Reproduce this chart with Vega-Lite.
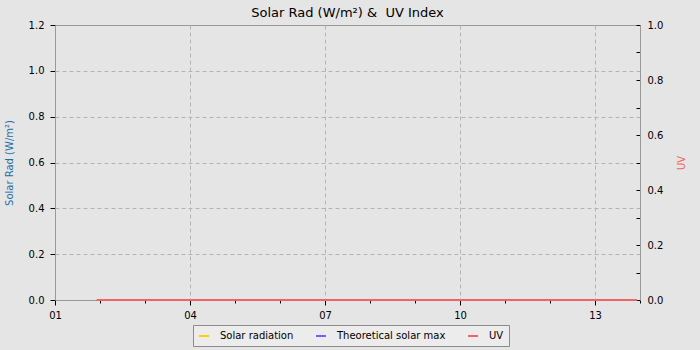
{
  "$schema": "https://vega.github.io/schema/vega-lite/v6.json",
  "width": 585,
  "height": 275,
  "autosize": {"type": "none"},
  "padding": {"left": 55, "top": 25, "right": 60, "bottom": 50},
  "background": "#e5e5e5",
  "title": {"text": "Solar Rad (W/m²) &\u00a0 UV Index", "font": "DejaVu Sans", "fontSize": 13, "fontWeight": "normal", "color": "#000000", "anchor": "middle", "offset": 0},
  "data": {"values": [
    {"day": 1.93, "series": "Solar radiation", "value": 0}, {"day": 2.93, "series": "Solar radiation", "value": 0}, {"day": 3.93, "series": "Solar radiation", "value": 0}, {"day": 4.93, "series": "Solar radiation", "value": 0}, {"day": 5.93, "series": "Solar radiation", "value": 0}, {"day": 6.93, "series": "Solar radiation", "value": 0}, {"day": 7.93, "series": "Solar radiation", "value": 0}, {"day": 8.93, "series": "Solar radiation", "value": 0}, {"day": 9.93, "series": "Solar radiation", "value": 0}, {"day": 10.93, "series": "Solar radiation", "value": 0}, {"day": 11.93, "series": "Solar radiation", "value": 0}, {"day": 12.93, "series": "Solar radiation", "value": 0}, {"day": 13.93, "series": "Solar radiation", "value": 0},
    {"day": 1.93, "series": "Theoretical solar max", "value": 0}, {"day": 2.93, "series": "Theoretical solar max", "value": 0}, {"day": 3.93, "series": "Theoretical solar max", "value": 0}, {"day": 4.93, "series": "Theoretical solar max", "value": 0}, {"day": 5.93, "series": "Theoretical solar max", "value": 0}, {"day": 6.93, "series": "Theoretical solar max", "value": 0}, {"day": 7.93, "series": "Theoretical solar max", "value": 0}, {"day": 8.93, "series": "Theoretical solar max", "value": 0}, {"day": 9.93, "series": "Theoretical solar max", "value": 0}, {"day": 10.93, "series": "Theoretical solar max", "value": 0}, {"day": 11.93, "series": "Theoretical solar max", "value": 0}, {"day": 12.93, "series": "Theoretical solar max", "value": 0}, {"day": 13.93, "series": "Theoretical solar max", "value": 0},
    {"day": 1.93, "series": "UV", "value": 0}, {"day": 2.93, "series": "UV", "value": 0}, {"day": 3.93, "series": "UV", "value": 0}, {"day": 4.93, "series": "UV", "value": 0}, {"day": 5.93, "series": "UV", "value": 0}, {"day": 6.93, "series": "UV", "value": 0}, {"day": 7.93, "series": "UV", "value": 0}, {"day": 8.93, "series": "UV", "value": 0}, {"day": 9.93, "series": "UV", "value": 0}, {"day": 10.93, "series": "UV", "value": 0}, {"day": 11.93, "series": "UV", "value": 0}, {"day": 12.93, "series": "UV", "value": 0}, {"day": 13.93, "series": "UV", "value": 0}
  ]},
  "encoding": {
    "x": {
      "field": "day", "type": "quantitative",
      "scale": {"domain": [1, 14], "nice": false, "zero": false},
      "axis": {
        "title": null,
        "values": [1, 2, 3, 4, 5, 6, 7, 8, 9, 10, 11, 12, 13, 14],
        "labelExpr": "indexof([1,4,7,10,13], datum.value) >= 0 ? (datum.value < 10 ? '0' + datum.value : '' + datum.value) : ''",
        "labelFlush": false,
        "labelOverlap": false,
        "labelPadding": 5,
        "grid": true,
        "gridDash": [4, 3],
        "gridColor": "#b4b4b4",
        "gridOpacity": {"condition": {"test": "indexof([4,7,10,13], datum.value) < 0", "value": 0}, "value": 1},
        "tickSize": {"condition": {"test": "indexof([1,4,7,10,13], datum.value) < 0", "value": 3}, "value": 5}
      }
    },
    "color": {
      "field": "series", "type": "nominal",
      "scale": {"domain": ["Solar radiation", "Theoretical solar max", "UV"], "range": ["#ffd000", "#6464ff", "#f06464"]},
      "legend": {
        "title": null, "orient": "none", "legendX": 138, "legendY": 300, "direction": "horizontal", "columns": 3,
        "fillColor": "#ececec", "strokeColor": "#8c8c8c", "padding": 5,
        "symbolType": "stroke", "symbolSize": 100, "symbolStrokeWidth": 2,
        "labelFont": "DejaVu Sans", "labelFontSize": 10, "labelColor": "#000000", "labelOffset": 10, "columnPadding": 18
      }
    }
  },
  "layer": [
    {
      "layer": [
        {
          "transform": [{"filter": "datum.series == 'Solar radiation'"}],
          "mark": {"type": "line", "strokeWidth": 2},
          "encoding": {
            "y": {
              "field": "value", "type": "quantitative",
              "scale": {"domain": [0, 1.2], "nice": false, "zero": false},
              "axis": {
                "title": "Solar Rad (W/m²)", "titleColor": "#1f6ea5", "titlePadding": 14,
                "values": [0, 0.1, 0.2, 0.3, 0.4, 0.5, 0.6, 0.7, 0.8, 0.9, 1.0, 1.1, 1.2],
                "labelExpr": "round(datum.value*10) % 2 == 0 ? format(datum.value, '.1f') : ''",
                "labelOverlap": false,
                "labelPadding": 6,
                "grid": true,
                "gridDash": [4, 3],
                "gridColor": "#b4b4b4",
                "gridOpacity": {"condition": {"test": "round(datum.value*10) % 2 == 1 || datum.value == 0 || datum.value > 1.15", "value": 0}, "value": 1},
                "tickSize": {"condition": {"test": "round(datum.value*10) % 2 == 1", "value": 3}, "value": 5}
              }
            }
          }
        },
        {
          "transform": [{"filter": "datum.series == 'Theoretical solar max'"}],
          "mark": {"type": "line", "strokeWidth": 2},
          "encoding": {
            "y": {"field": "value", "type": "quantitative"}
          }
        }
      ]
    },
    {
      "transform": [{"filter": "datum.series == 'UV'"}],
      "mark": {"type": "line", "strokeWidth": 2},
      "encoding": {
        "y": {
          "field": "value", "type": "quantitative",
          "scale": {"domain": [0, 1], "nice": false, "zero": false},
          "axis": {
            "orient": "right",
            "title": "UV", "titleColor": "#f06464", "titleAngle": 270, "titleBaseline": "top", "titlePadding": 14,
            "values": [0, 0.1, 0.2, 0.3, 0.4, 0.5, 0.6, 0.7, 0.8, 0.9, 1.0],
            "labelExpr": "round(datum.value*10) % 2 == 0 ? format(datum.value, '.1f') : ''",
            "labelOverlap": false,
            "tickSize": -4,
            "labelPadding": 11,
            "grid": false
          }
        }
      }
    }
  ],
  "resolve": {"scale": {"y": "independent"}},
  "config": {
    "font": "DejaVu Sans",
    "axis": {
      "labelFont": "DejaVu Sans", "labelFontSize": 10, "labelColor": "#000000",
      "titleFont": "DejaVu Sans", "titleFontSize": 10, "titleFontWeight": "normal",
      "tickColor": "#000000", "domainColor": "#999999", "tickSize": 5
    },
    "view": {"fill": "#e5e5e5", "stroke": "#999999", "strokeWidth": 1}
  }
}
